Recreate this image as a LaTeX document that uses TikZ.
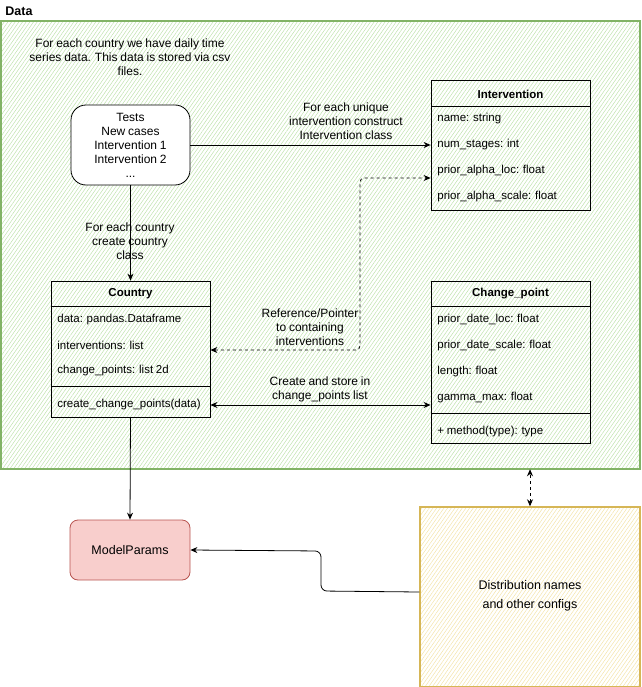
\documentclass[tikz,border=0pt]{standalone}
\usepackage{fontspec}
\setmainfont{Liberation Sans}[WordSpace=0.85]
\usetikzlibrary{arrows.meta,patterns.meta}
\definecolor{grnline}{HTML}{82B366}
\definecolor{grnhatch}{HTML}{BFE2AD}
\definecolor{ylwline}{HTML}{D6B656}
\definecolor{ylwhatch}{HTML}{F3E4AA}
\definecolor{redfill}{HTML}{F8CECC}
\definecolor{redline}{HTML}{B85450}
\tikzset{
  txt/.style={font=\fontsize{12}{14}\selectfont},
  classbox/.style={draw, minimum width=159, inner sep=0pt},
  field/.style={font=\fontsize{11.5}{14}\selectfont, anchor=west, inner sep=0pt},
  head/.style={font=\bfseries\fontsize{11.5}{14}\selectfont, inner sep=0pt},
  lbl/.style={txt, align=center, inner sep=0pt},
  link/.style={-{Stealth[length=7pt,width=6pt]}},
  both/.style={{Stealth[length=7pt,width=6pt]}-{Stealth[length=7pt,width=6pt]}}
}
\begin{document}
\begin{tikzpicture}[x=1pt,y=-1pt,line width=0.8pt]
\useasboundingbox (0,0) rectangle (641,687);

% containers
\node[draw=grnline, line width=1.2pt, minimum width=639, minimum height=448, inner sep=0pt,
  pattern={Lines[angle=55,distance=3pt,line width=0.5pt]}, pattern color=grnhatch] (data) at (320.5,245) {};
\node[anchor=west, font=\bfseries\fontsize{12.5}{14}\selectfont, inner sep=0pt] (datalbl) at (5,11) {Data};
\node[draw=ylwline, line width=1.4pt, minimum width=220, minimum height=180, inner sep=0pt,
  pattern={Lines[angle=55,distance=3pt,line width=0.5pt]}, pattern color=ylwhatch] (dist) at (530,597) {};
\node[lbl, font=\fontsize{12.5}{19}\selectfont] (disttxt) at (530,596) {Distribution names\\and other configs};

\node[lbl] (note) at (130,57) {For each country we have daily time\\series data. This data is stored via csv\\files.};

% source box
\node[draw, fill=white, rounded corners=15, minimum width=119, minimum height=80, lbl] (tests) at (130.5,145)
  {Tests\\New cases\\Intervention 1\\Intervention 2\\...};

% Intervention
\node[classbox, minimum height=130] (intv) at (510.5,145) {};
\draw (intv.north west) ++(0,27) -- ++(159,0);
\node[head] (intvh) at (510.5,94) {Intervention};
\node[field] (iname) at (437,119) {name: string};
\node[field] (istage) at (437,145) {num\_stages: int};
\node[field] (iloc) at (437,171) {prior\_alpha\_loc: float};
\node[field] (iscale) at (437,197) {prior\_alpha\_scale: float};

% Country
\node[classbox, minimum height=136] (country) at (130.5,349) {};
\draw (country.north west) ++(0,26) -- ++(159,0);
\draw (country.north west) ++(0,106) -- ++(159,0);
\node[head] (countryh) at (130.5,294) {Country};
\node[field] (cdata) at (57,320) {data: pandas.Dataframe};
\node[field] (cint) at (57,345) {interventions: list};
\node[field] (ccp) at (57,371) {change\_points: list 2d};
\node[field] (cmeth) at (57,405) {create\_change\_points(data)};

% Change_point
\node[classbox, minimum height=162] (cp) at (510.5,362) {};
\draw (cp.north west) ++(0,26) -- ++(159,0);
\draw (cp.north west) ++(0,133) -- ++(159,0);
\node[head] (cph) at (510.5,294) {Change\_point};
\node[field] (cploc) at (437,320) {prior\_date\_loc: float};
\node[field] (cpscale) at (437,346) {prior\_date\_scale: float};
\node[field] (cplen) at (437,372) {length: float};
\node[field] (cpgam) at (437,398) {gamma\_max: float};
\node[field] (cpmeth) at (437,432) {+ method(type): type};

% ModelParams
\node[draw=redline, fill=redfill, rounded corners=8, minimum width=120, minimum height=60,
  font=\fontsize{12.5}{14}\selectfont] (mp) at (130,550) {ModelParams};

% connectors
\draw[link] (tests.east) -- (intv.west);
\node[lbl] (l1) at (346,121) {For each unique\\intervention construct\\Intervention class};

\draw[link] (tests.south) -- (country.north);
\node[lbl] (l2) at (130,241) {For each country\\create country\\class};

\draw[both, dashed, rounded corners=4] ([yshift=-1]country.east) -- (360,350) -- (360,178) -- ([yshift=-33]intv.west);
\node[lbl] (l3) at (310,327) {Reference/Pointer\\to containing\\interventions};

\draw[both] (country.east |- cmeth) -- (cp.west |- cmeth);
\node[lbl] (l4) at (320,389) {Create and store in\\change\_points list};

\draw[link] (country.south) -- (mp.north);
\draw[link, rounded corners=6] ([yshift=5]dist.west) -- (321,591) -- (321,551) -- (mp.east);
\draw[both, dashed] (dist.north) -- (dist.north |- data.south);
\end{tikzpicture}
\end{document}
